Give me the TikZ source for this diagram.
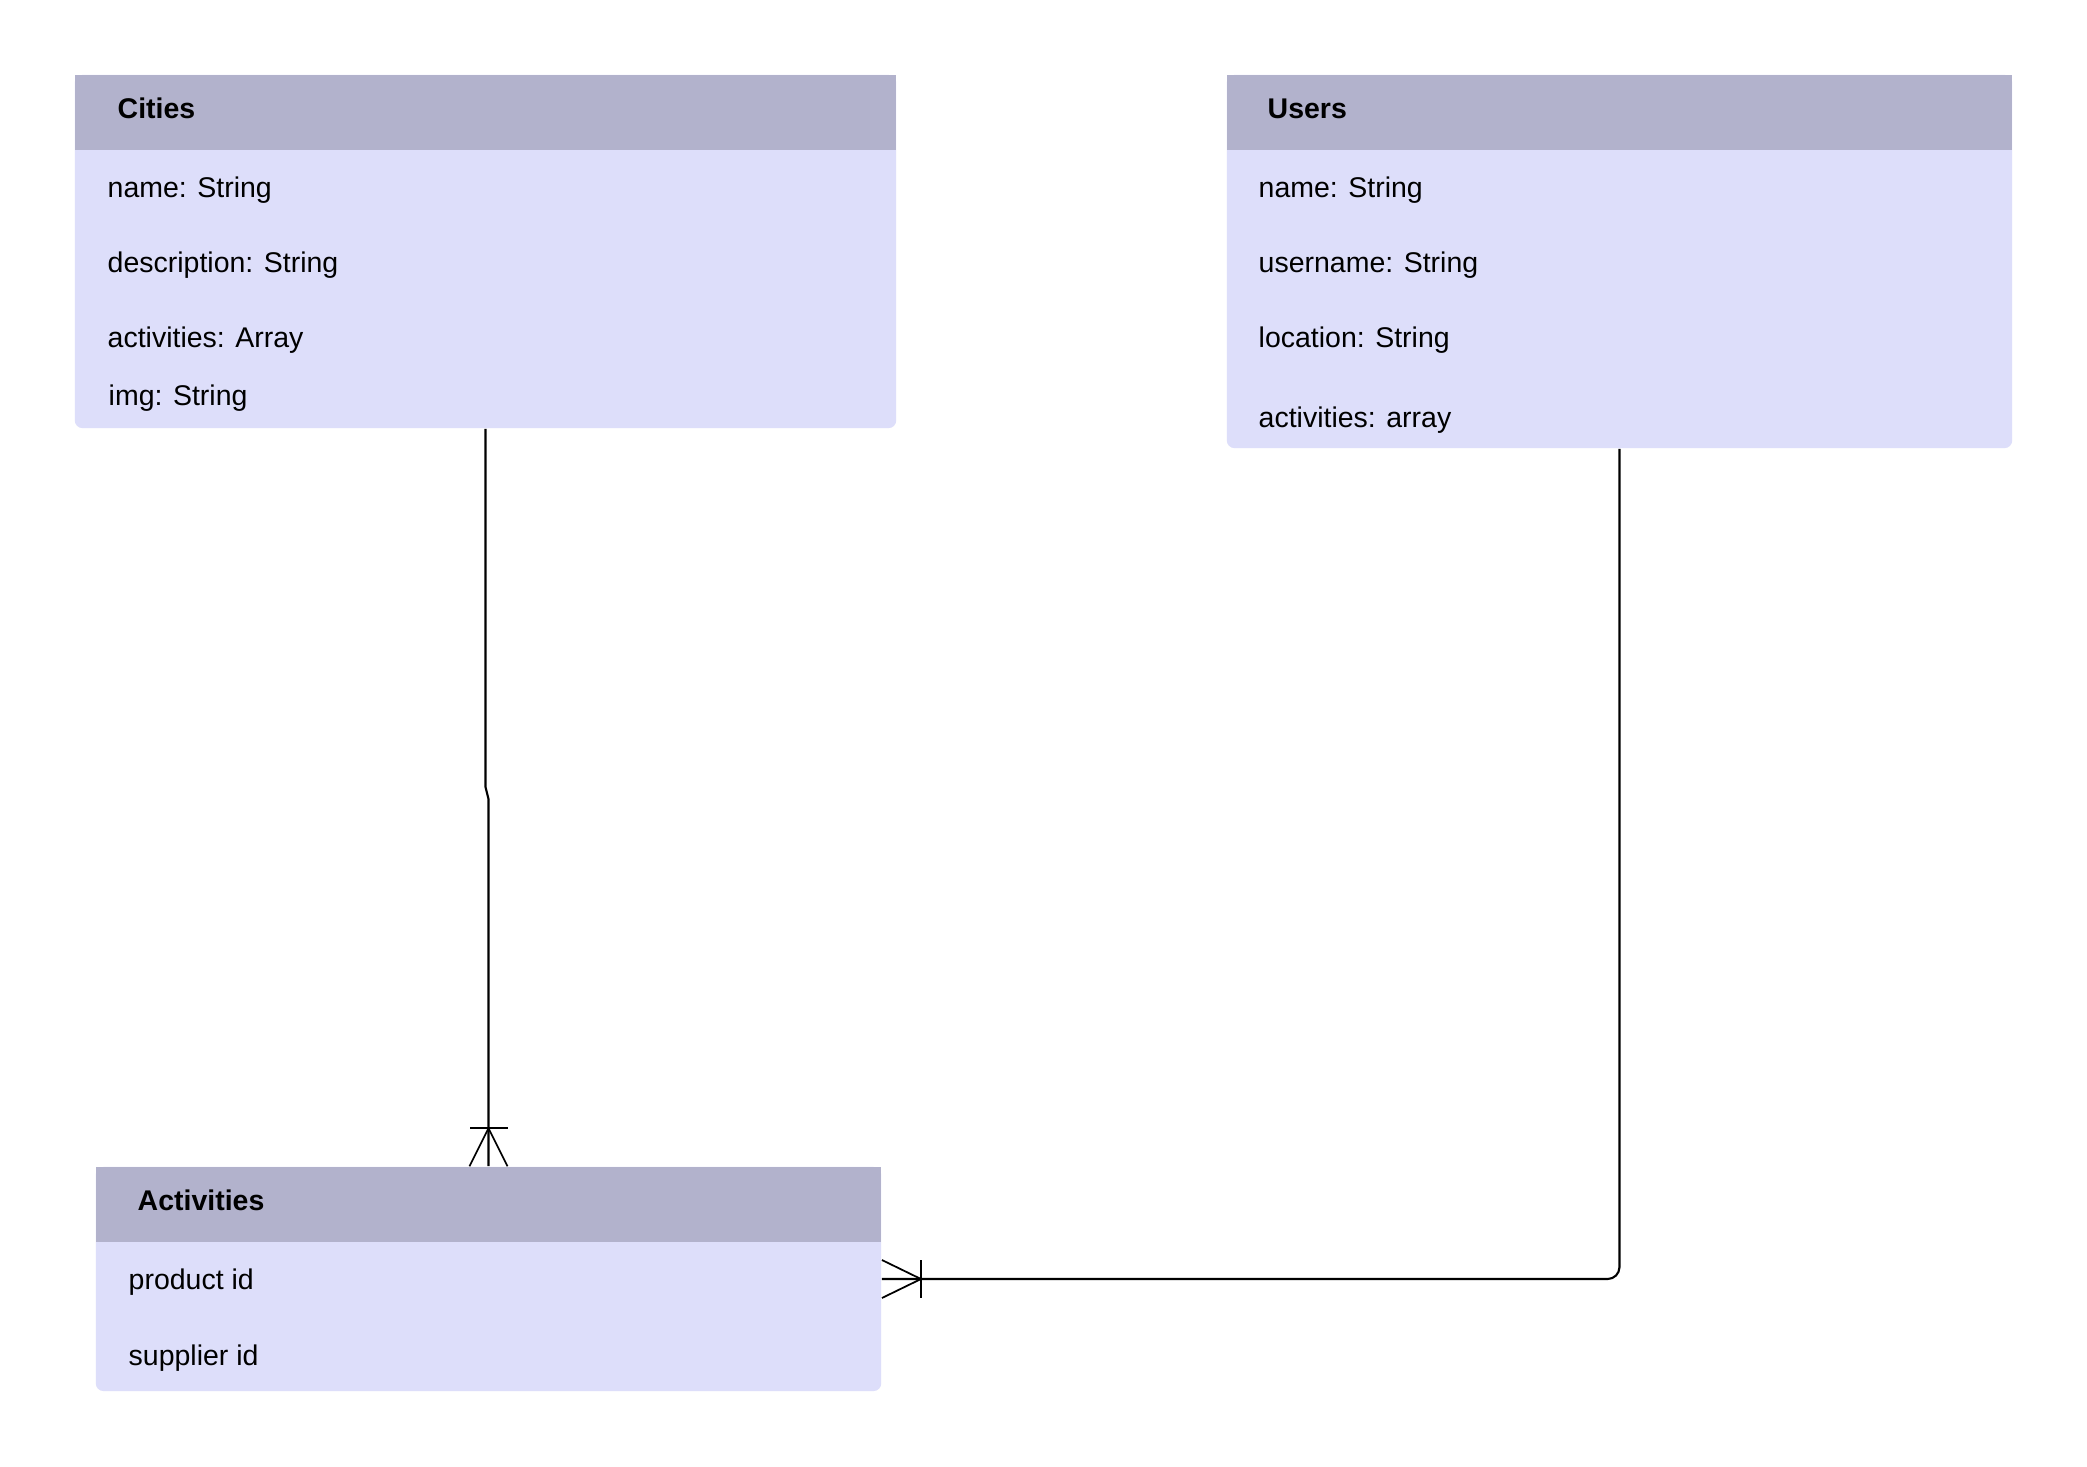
\documentclass[tikz,border=0pt]{standalone}
\usepackage{fontspec}
\setmainfont{Liberation Sans}
\definecolor{headfill}{RGB}{178,178,204}
\definecolor{bodyfill}{RGB}{221,222,250}
\begin{document}
\begin{tikzpicture}[x=0.01cm,y=-0.01cm,
  entity/.style={fill=bodyfill,draw=none,rounded corners=2.2pt,inner sep=0pt},
  headbar/.style={fill=headfill,draw=none},
  title/.style={anchor=base west,inner sep=0pt,font=\fontsize{8.1}{10}\selectfont\bfseries},
  field/.style={anchor=base west,inner sep=0pt,font=\fontsize{8.1}{10}\selectfont},
  link/.style={draw=black,line width=0.6pt},
  foot/.style={draw=black,line width=0.5pt}]
\useasboundingbox[fill=white] (0,0) rectangle (2087,1466);

% Cities entity
\node[entity,minimum width=8.21cm,minimum height=3.53cm] (cities) at (485.5,251.5) {};
\path[headbar] (75,75) rectangle (896,150);
\node[title] (citiesT) at (117,118) {Cities};
\node[field] (c1) at (107,197) {name: String};
\node[field] (c2) at (107,272) {description: String};
\node[field] (c3) at (107,347) {activities: Array};
\node[field] (c4) at (108,405) {img: String};

% Users entity
\node[entity,minimum width=7.85cm,minimum height=3.73cm] (users) at (1619.5,261.5) {};
\path[headbar] (1227,75) rectangle (2012,150);
\node[title] (usersT) at (1267,118) {Users};
\node[field] (u1) at (1258,197) {name: String};
\node[field] (u2) at (1258,272) {username: String};
\node[field] (u3) at (1258,347) {location: String};
\node[field] (u4) at (1258,427) {activities: array};

% Activities entity
\node[entity,minimum width=7.85cm,minimum height=2.24cm] (acts) at (488.5,1279) {};
\path[headbar] (96,1167) rectangle (881,1242);
\node[title] (actsT) at (137,1210) {Activities};
\node[field] (a1) at (128,1289) {product id};
\node[field] (a2) at (128,1365) {supplier id};

% Cities -- Activities (one to many)
\draw[link] (cities.south) -- (cities.south |- 0,787) -- (acts.north |- 0,799) -- (acts.north);
\draw[foot] ([xshift=-0.18cm,yshift=0.38cm]acts.north) -- ([xshift=0.19cm,yshift=0.38cm]acts.north);
\draw[foot] ([xshift=-0.19cm]acts.north) -- ([yshift=0.38cm]acts.north) -- ([xshift=0.19cm]acts.north);

% Users -- Activities (one to many)
\draw[link,rounded corners=3.4pt] (users.south) |- (acts.east);
\draw[foot] ([xshift=0.39cm,yshift=0.19cm]acts.east) -- ([xshift=0.39cm,yshift=-0.19cm]acts.east);
\draw[foot] ([yshift=0.19cm]acts.east) -- ([xshift=0.39cm]acts.east) -- ([yshift=-0.19cm]acts.east);
\end{tikzpicture}
\end{document}
